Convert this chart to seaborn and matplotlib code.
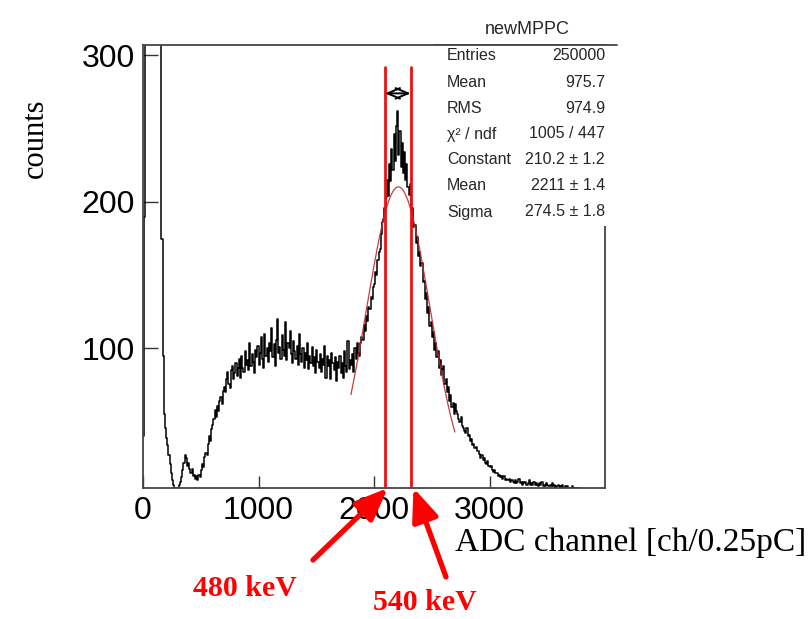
import numpy as np
import pandas as pd
import matplotlib
matplotlib.use("Agg")
import matplotlib.pyplot as plt
import seaborn as sns
from matplotlib.patches import Rectangle
from matplotlib.lines import Line2D

# ---------------- data ----------------
bin_width = 10  # ADC channels per bin
counts = [
    40, 190, 420, 1200, 2500, 4000, 5200, 5800, 5600, 4800,
    3600, 2500, 1500, 900, 560, 330, 175, 95, 55, 46,
    39, 34, 27, 21, 15, 10, 7, 5, 4, 4.5,
    5, 7, 9, 12, 17, 22, 27, 25, 20, 22,
    18, 15, 18, 13, 14, 11, 13, 10, 14, 12,
    17, 21, 19, 26, 29, 27, 35, 40, 37, 45,
    48, 52, 58, 53, 61, 57, 64, 67, 62, 71,
    74, 70, 79, 84, 76, 73, 85, 88, 79, 83,
    90, 81, 87, 93, 80, 95, 87, 84, 98, 89,
    92, 85, 104, 88, 96, 91, 83, 99, 94, 102,
    89, 97, 108, 93, 87, 110, 95, 100, 91, 104,
    98, 114, 94, 103, 88, 106, 120, 97, 101, 93,
    109, 99, 95, 118, 92, 104, 100, 112, 96, 90,
    105, 98, 93, 102, 89, 110, 96, 91, 100, 87,
    97, 92, 104, 86, 95, 90, 101, 88, 94, 83,
    99, 91, 87, 96, 84, 93, 89, 102, 80, 95,
    88, 92, 79, 97, 90, 85, 94, 78, 91, 87,
    95, 83, 90, 80, 98, 88, 84, 105, 86, 92,
    89, 96, 84, 100, 93, 104, 97, 95, 104, 108,
    106, 116, 112, 122, 119, 128, 127, 135, 134, 142,
    144, 152, 150, 160, 166, 168, 178, 186, 188, 196,
    203, 215, 204, 226, 214, 236, 222, 246, 228, 252,
    262, 232, 248, 224, 240, 220, 234, 215, 226, 210,
    205, 212, 194, 196, 183, 184, 172, 176, 163, 166,
    156, 158, 145, 146, 134, 138, 124, 128, 115, 118,
    108, 111, 99, 104, 94, 98, 87, 92, 82, 86,
    88, 76, 79, 70, 74, 64, 68, 60, 63, 55,
    62, 57, 55, 52, 50, 53, 47, 46, 44, 42,
    46, 40, 41, 37, 38, 34, 35, 32, 33, 30,
    30, 28, 25, 27, 24, 25, 22, 21, 23, 20,
    19, 20, 17, 16, 17, 15, 15, 13, 14, 12,
    13, 11, 13, 10, 11, 10, 10, 11, 9, 10,
    9, 8, 10, 8, 9, 11, 8, 9, 7, 9,
    8, 9, 7, 8, 10, 7, 8, 7, 9, 7,
    8, 7, 6, 8, 7, 9, 6, 7, 6, 8,
    7, 6, 7, 6, 8, 6, 7, 5, 6, 7,
    6, 5, 6, 7, 5, 6, 5, 6, 5, 5,
    5, 6, 5, 4, 5, 5, 4, 5, 4, 4,
    4, 3, 4, 3, 3, 2, 3, 2, 2, 2,
    2, 1, 2, 1, 1, 1, 1, 0, 1, 0,
]

# Gaussian fit result (from stats box)
fit_constant = 210.2
fit_mean = 2211.0
fit_sigma = 274.5
fit_range = [1800, 2700]

hist_title = "newMPPC"
stat_names = ["Entries", "Mean", "RMS", "\u03c7\u00b2 / ndf", "Constant", "Mean", "Sigma"]
stat_values = ["250000", "975.7", "974.9", "1005 / 447",
               "210.2 \u00b1 1.2", "2211 \u00b1 1.4", "274.5 \u00b1 1.8"]

x_ticks = [0, 1000, 2000, 3000]
y_ticks = [100, 200, 300]

line_channels = [2095, 2317]
line_labels = ["480 keV", "540 keV"]

x_label = "ADC channel [ch/0.25pC]"
y_label = "counts"

# ---------------- figure ----------------
sns.set_style("ticks")
plt.rcParams["font.family"] = ["Liberation Sans", "DejaVu Sans"]

W, H = 811, 619
fig = plt.figure(figsize=(W / 100, H / 100), dpi=100)
fig.patch.set_facecolor("white")

ax_left, ax_right, ax_top, ax_bottom = 143, 605, 45, 488
ax = fig.add_axes([ax_left / W, 1 - ax_bottom / H,
                   (ax_right - ax_left) / W, (ax_bottom - ax_top) / H])

edges = np.arange(len(counts) + 1) * bin_width
df = pd.DataFrame({"channel": edges, "counts": list(counts) + [counts[-1]]})
sns.lineplot(data=df, x="channel", y="counts", drawstyle="steps-post",
             color="black", lw=1.1, estimator=None, sort=False, ax=ax)

fx = np.linspace(fit_range[0], fit_range[1], 300)
fdf = pd.DataFrame({"channel": fx,
                    "fit": fit_constant * np.exp(-0.5 * ((fx - fit_mean) / fit_sigma) ** 2)})
sns.lineplot(data=fdf, x="channel", y="fit", color="#c02828", lw=0.9,
             alpha=0.9, estimator=None, ax=ax, zorder=3)

ymin, ymax = 4.8, 307
ax.set_xlim(0, 4000)
ax.set_ylim(ymin, ymax)

# red vertical lines
for ch in line_channels:
    ax.axvline(ch, ymin=0, ymax=(292 - ymin) / (ymax - ymin), color="#ee1010", lw=2, zorder=4)

# double arrow between the lines
ax.annotate("", xy=(line_channels[1], 274), xytext=(line_channels[0], 274),
            arrowprops=dict(arrowstyle="<->,head_length=0.9,head_width=0.38",
                            color="black", lw=1.4, shrinkA=0, shrinkB=0), zorder=5)

ax.set_xticks(x_ticks)
ax.set_yticks(y_ticks)
ax.set_xticklabels([str(v) for v in x_ticks])
ax.set_yticklabels([str(v) for v in y_ticks])
ax.tick_params(axis="x", direction="in", length=9, width=1, labelsize=23, pad=6, colors="#333333",
               labelcolor="black")
ax.tick_params(axis="y", direction="in", length=10.5, width=1, labelsize=23, pad=6, colors="#333333",
               labelcolor="black")
ax.minorticks_off()
for s in ax.spines.values():
    s.set_visible(True)
    s.set_color("#444444")
    s.set_linewidth(1.3)
ax.set_xlabel("")
ax.set_ylabel("")

# axis titles
fig.text(806 / W, 1 - 543 / H, x_label, ha="right", va="center",
         family="Liberation Serif", fontsize=24, color="black")
fig.text(35 / W, 1 - 138 / H, y_label, ha="center", va="center", rotation=90,
         family="Liberation Serif", fontsize=22, color="black")

# red arrows and labels
label_pos = [(245, 588), (425, 603)]
tail_pos = [(313, 560), (446, 577)]
for ch, lab, lp, tp in zip(line_channels, line_labels, label_pos, tail_pos):
    ax.annotate("", xy=(ch + 25, 0), xycoords=("data", "axes fraction"),
                xytext=(tp[0], H - tp[1]), textcoords="figure pixels",
                arrowprops=dict(arrowstyle="-|>,head_length=1.1,head_width=0.45",
                                color="#ff0000", lw=3.8, shrinkA=0, shrinkB=0,
                                mutation_scale=18),
                annotation_clip=False)
    fig.text(lp[0] / W, 1 - lp[1] / H, lab, ha="center", va="center",
             family="Liberation Serif", fontweight="bold", fontsize=21.5, color="#ff0000")

# stats box
box_l, box_r, box_t, box_b = 435, 617, 45, 226
fig.add_artist(Rectangle((box_l / W, 1 - box_b / H), (box_r - box_l) / W, (box_b - box_t) / H,
                         transform=fig.transFigure, facecolor="white", edgecolor="none", zorder=5))
fig.add_artist(Line2D([box_l / W, box_r / W], [1 - box_t / H, 1 - box_t / H],
                      transform=fig.transFigure, color="#444444", lw=1.3, zorder=6))
fig.text(527 / W, 1 - 30 / H, hist_title, ha="center", va="center", fontsize=13, zorder=7)
row_y = [56, 82.7, 108.3, 134, 160, 186, 212]
for name, val, yy in zip(stat_names, stat_values, row_y):
    fig.text(447 / W, 1 - yy / H, name, ha="left", va="center", fontsize=11.5, zorder=7)
    fig.text(605 / W, 1 - yy / H, val, ha="right", va="center", fontsize=11.5, zorder=7)

fig.savefig("out.png", dpi=100, facecolor="white")
